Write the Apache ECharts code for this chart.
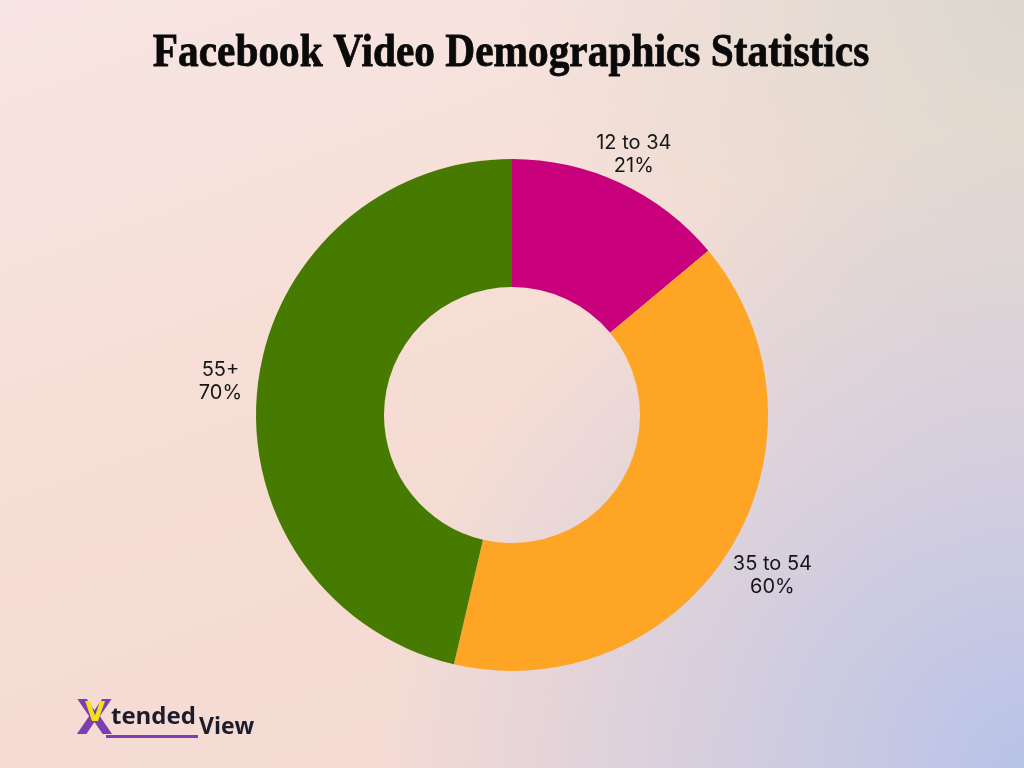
<!DOCTYPE html>
<html>
<head>
<meta charset="utf-8">
<title>Facebook Video Demographics Statistics</title>
<script src="https://cdn.jsdelivr.net/npm/echarts@6/dist/echarts.min.js"></script>
<style>
  html, body {
    margin: 0;
    padding: 0;
    width: 1024px;
    height: 768px;
    overflow: hidden;
  }
  body {
    background:
      radial-gradient(circle at 100% 100%, rgba(184, 195, 232, 1) 0%, rgba(184, 195, 232, 0) 50%),
      radial-gradient(circle at 100% 0%, rgba(220, 216, 206, 1) 0%, rgba(220, 216, 206, 0) 40%),
      linear-gradient(160deg, #f7e5e3 0%, #f6ddd3 50%, #f3d9d3 100%);
  }
  #chart {
    width: 1024px;
    height: 768px;
  }
</style>
</head>
<body>
<div id="chart"></div>
<script>
  // chart data
  var ageGroups = ['12 to 34', '35 to 54', '55+'];
  var shares = [21, 60, 70];
  var sliceColors = ['#c8007b', '#fea526', '#467a00'];
  var chartTitle = 'Facebook Video Demographics Statistics';

  var centerX = 512;
  var centerY = 415;
  var outerR = 256;
  var innerR = 128;
  var startAngle = 90;

  var total = shares.reduce(function (a, b) { return a + b; }, 0);
  var before = [];
  var run = 0;
  shares.forEach(function (v) { before.push(run); run += v; });

  var chart = echarts.init(document.getElementById('chart'));

  chart.setOption({
    backgroundColor: 'transparent',
    graphic: [
      {
        // title, squeezed a little to look like a condensed display serif
        type: 'text',
        x: 511,
        y: 30,
        scaleX: 0.88,
        style: {
          text: chartTitle,
          font: 'bold 47px "Liberation Serif"',
          fill: '#0a0a0a',
          stroke: '#0a0a0a',
          lineWidth: 0.8,
          textAlign: 'center',
          textVerticalAlign: 'top'
        }
      },
      {
        type: 'text',
        left: 76,
        top: 698,
        style: { text: 'X', font: 'bold 48px "DejaVu Sans"', fill: '#7d3fb0' }
      },
      {
        type: 'text',
        left: 85,
        top: 701,
        style: { text: 'V', font: 'bold 26px "DejaVu Sans"', fill: '#f2e21c' }
      },
      {
        type: 'text',
        left: 111,
        top: 705,
        style: { text: 'tended', font: 'bold 24px "Open Sans"', fill: '#1c1c2a' }
      },
      {
        type: 'rect',
        shape: { x: 106, y: 735, width: 92, height: 3 },
        style: { fill: '#7d3fb0' }
      },
      {
        type: 'text',
        left: 199,
        top: 716,
        style: { text: 'View', font: 'bold 23px "Open Sans"', fill: '#1c1c2a' }
      }
    ],
    series: [
      {
        type: 'pie',
        center: [centerX, centerY],
        radius: [innerR, outerR],
        startAngle: startAngle,
        clockwise: true,
        silent: true,
        label: {
          show: true,
          position: 'outside',
          formatter: '{b}\n{c}%',
          fontFamily: 'Inter',
          fontSize: 20,
          lineHeight: 23,
          color: '#161616'
        },
        labelLine: { show: false },
        labelLayout: function (p) {
          var i = p.dataIndex;
          var mid = (startAngle - (before[i] + shares[i] / 2) / total * 360) * Math.PI / 180;
          var dx = Math.cos(mid);
          var dy = -Math.sin(mid);
          var d = outerR + 16 + Math.abs(dx) * p.labelRect.width / 2;
          return {
            x: centerX + dx * d,
            y: centerY + dy * d,
            align: 'center',
            verticalAlign: 'middle'
          };
        },
        data: ageGroups.map(function (name, i) {
          return { name: name, value: shares[i], itemStyle: { color: sliceColors[i] } };
        })
      }
    ]
  });
</script>
</body>
</html>
